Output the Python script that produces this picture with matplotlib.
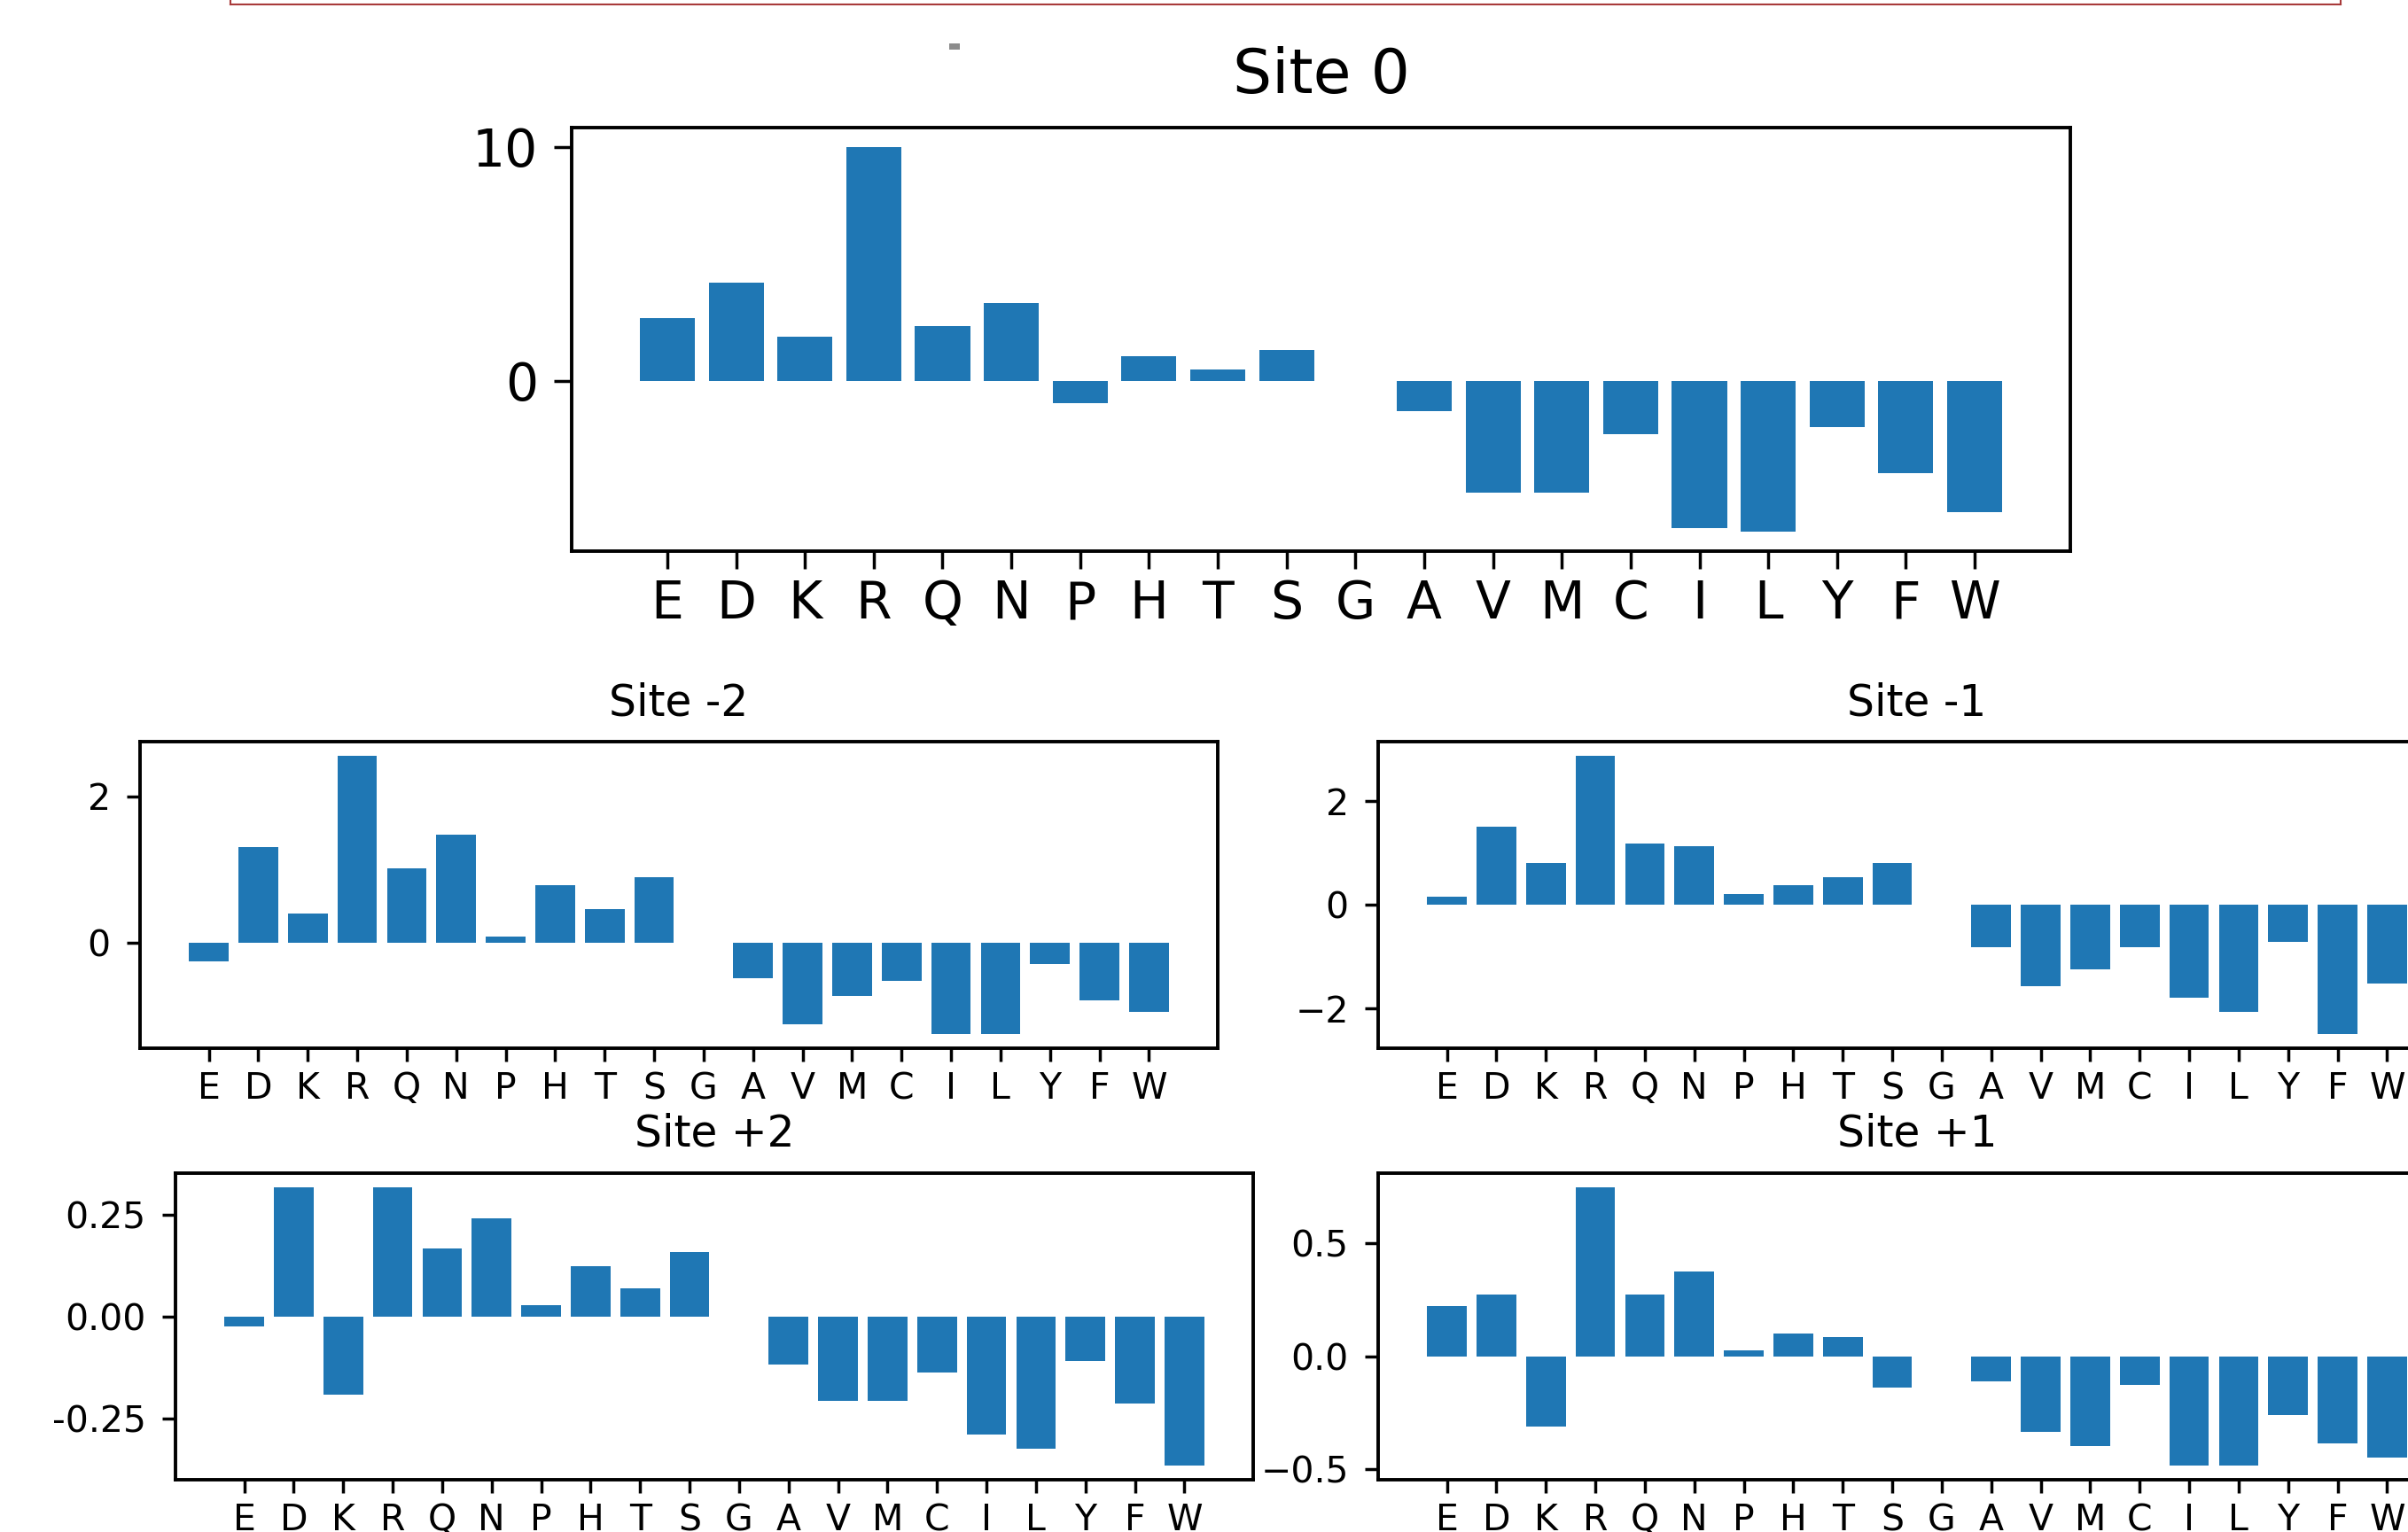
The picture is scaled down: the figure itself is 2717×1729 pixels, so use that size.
import matplotlib
matplotlib.use('Agg')
import matplotlib.pyplot as plt
from matplotlib.lines import Line2D
from matplotlib.patches import Rectangle

# amino acids on the x axis
residues = ['E', 'D', 'K', 'R', 'Q', 'N', 'P', 'H', 'T', 'S',
            'G', 'A', 'V', 'M', 'C', 'I', 'L', 'Y', 'F', 'W']

site_0 = [2.70, 4.18, 1.87, 10.0, 2.35, 3.34, -0.96, 1.04, 0.50, 1.33,
          0.0, -1.30, -4.79, -4.79, -2.28, -6.30, -6.45, -1.98, -3.96, -5.62]
site_m2 = [-0.26, 1.31, 0.39, 2.56, 1.01, 1.47, 0.085, 0.78, 0.46, 0.89,
           0.0, -0.49, -1.12, -0.73, -0.53, -1.26, -1.26, -0.30, -0.80, -0.95]
site_m1 = [0.15, 1.50, 0.80, 2.88, 1.18, 1.13, 0.20, 0.37, 0.53, 0.80,
           0.0, -0.82, -1.57, -1.25, -0.82, -1.79, -2.07, -0.71, -2.50, -1.52]
site_p2 = [-0.025, 0.318, -0.191, 0.318, 0.168, 0.242, 0.028, 0.124, 0.070, 0.159,
           0.0, -0.117, -0.207, -0.207, -0.137, -0.289, -0.324, -0.108, -0.213, -0.366]
site_p1 = [0.223, 0.274, -0.311, 0.747, 0.274, 0.373, 0.026, 0.101, 0.085, -0.138,
           0.0, -0.110, -0.335, -0.398, -0.126, -0.484, -0.484, -0.260, -0.386, -0.449]

yticks_0 = [0, 10]
yticks_m2 = [0, 2]
yticks_m1 = [-2, 0, 2]
yticks_p2 = [-0.25, 0.0, 0.25]
yticks_p1 = [-0.5, 0.0, 0.5]

W, H = 2717, 1729
fig = plt.figure(figsize=(W / 100, H / 100), dpi=100)


def px_box(left, top, width, height):
    return [left / W, (H - top - height) / H, width / W, height / H]


def site_plot(rect, vals, ticks, title, fs, tfs, tlen, tpad):
    ax = fig.add_axes(rect)
    ax.bar(range(len(residues)), vals, width=0.8, color='#1f77b4')
    ax.set_xticks(range(len(residues)))
    ax.set_xticklabels(residues)
    ax.set_yticks(ticks)
    if title == 'Site +2':
        ax.set_yticklabels(['-0.25', '0.00', '0.25'])
    ax.tick_params(axis='both', labelsize=fs, length=tlen, width=2.5)
    ax.tick_params(axis='x', pad=8)
    ax.tick_params(axis='y', pad=13)
    for s in ax.spines.values():
        s.set_linewidth(2.8)
    ax.set_title(title, fontsize=tfs, pad=tpad)
    return ax


site_plot(px_box(645, 144, 1691, 478), site_0, yticks_0, 'Site 0', 42, 50, 14.5, 28)
site_plot(px_box(158, 837, 1216, 346), site_m2, yticks_m2, 'Site -2', 29.5, 35, 11, 21)
site_plot(px_box(1555, 837, 1216, 346), site_m1, yticks_m1, 'Site -1', 29.5, 35, 11, 21)
site_plot(px_box(198, 1324, 1216, 346), site_p2, yticks_p2, 'Site +2', 29.5, 35, 11, 22)
site_plot(px_box(1555, 1324, 1216, 346), site_p1, yticks_p1, 'Site +1', 29.5, 35, 11, 22)

# bits of the surrounding page caught in the screenshot
red = '#a83a3a'
fig.add_artist(Line2D([260 / W, 2641 / W], [1 - 5 / H, 1 - 5 / H], color=red, lw=1.5))
fig.add_artist(Line2D([260 / W, 260 / W], [1 - 5 / H, 1.0], color=red, lw=1.5))
fig.add_artist(Line2D([2641 / W, 2641 / W], [1 - 5 / H, 1.0], color=red, lw=1.5))
fig.add_artist(Rectangle((1071 / W, 1 - 56 / H), 12 / W, 7 / H, color='#8c8c8c', lw=0))

fig.savefig('out.png', dpi=100)
